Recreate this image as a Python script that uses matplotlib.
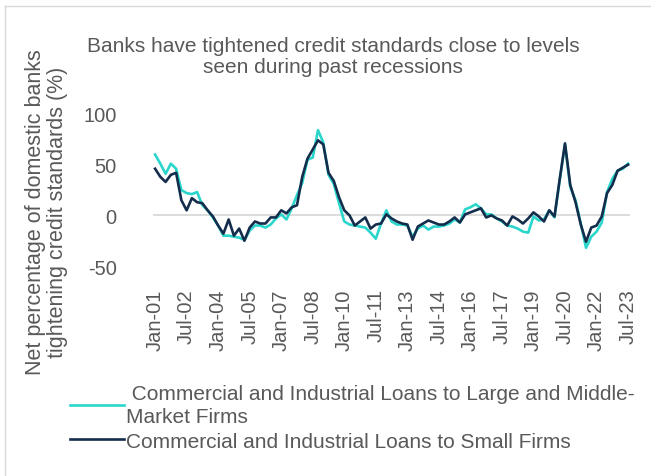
import matplotlib
matplotlib.use("Agg")
import matplotlib.pyplot as plt
from matplotlib.lines import Line2D

plt.rcParams['font.family'] = ['Liberation Sans', 'DejaVu Sans']
plt.rcParams['axes.unicode_minus'] = False

# quarterly survey, Jan-01 .. Jul-23
years = list(range(2001, 2024))
months = ['Jan', 'Apr', 'Jul', 'Oct']
quarters = [f"{m}-{str(y)[2:]}" for y in years for m in months][:91]

large_mid = [60, 51, 41, 51, 46, 25, 22, 21, 23, 10,
             5, -2, -10, -20, -20, -21, -22, -24, -15, -10,
             -10, -12, -9, -3, 1, -4, 7, 20, 32, 55,
             57, 84, 72, 40, 31, 12, -6, -9, -10, -11,
             -12, -17, -23, -8, 5, -6, -9, -9, -10, -21,
             -13, -10, -14, -11, -11, -10, -8, -4, -7, 6,
             8, 11, 7, 1, 1, -3, -6, -10, -11, -13,
             -16, -17, -1, -5, -4, 5, -2, 35, 70, 28,
             15, -8, -32, -21, -16, -7, 23, 36, 44, 46,
             51]

small = [46, 38, 33, 40, 42, 15, 5, 17, 13, 12,
         5, -1, -10, -18, -4, -20, -13, -25, -12, -6,
         -8, -8, -2, -2, 5, 2, 8, 10, 38, 56,
         65, 74, 70, 42, 34, 18, 5, 0, -10, -6,
         -2, -13, -9, -8, 1, -3, -6, -8, -9, -24,
         -11, -8, -5, -7, -9, -9, -6, -2, -7, 1,
         3, 5, 7, -2, 0, -3, -5, -10, -1, -4,
         -8, -3, 3, -1, -6, 5, -1, 36, 71, 30,
         13, -9, -26, -12, -10, -1, 22, 30, 44, 47,
         50]

label_large = " Commercial and Industrial Loans to Large and Middle-\nMarket Firms"
label_small = "Commercial and Industrial Loans to Small Firms"

grey = '#595959'
cyan = '#2AD6CC'
navy = '#142D4C'

fig = plt.figure(figsize=(6.51, 4.77), dpi=100)
ax = fig.add_axes([0.235, 0.440, 0.733, 0.319])

x = list(range(len(quarters)))
ax.plot(x, large_mid, color=cyan, linewidth=1.9, label=label_large)
ax.plot(x, small, color=navy, linewidth=1.9, label=label_small)
ax.axhline(0, color='#D9D9D9', linewidth=1.3, zorder=0)

ax.set_xlim(-0.4, len(quarters) - 0.6)
ax.set_ylim(-50, 100)
ax.set_yticks([-50, 0, 50, 100])
ax.set_xticks(x[::6])
ax.set_xticklabels(quarters[::6], rotation=90)
ax.tick_params(axis='x', length=0, pad=16, labelsize=14.5, labelcolor=grey)
ax.tick_params(axis='y', length=0, pad=26, labelsize=14.5, labelcolor=grey)
for s in ax.spines.values():
    s.set_visible(False)

fig.text(0.512, 0.880, "Banks have tightened credit standards close to levels\nseen during past recessions",
         ha='center', va='center', fontsize=15, color=grey, linespacing=1.1)
fig.text(0.0715, 0.555, "Net percentage of domestic banks\ntightening credit standards (%)",
         rotation=90, ha='center', va='center', fontsize=15.5, color=grey,
         linespacing=1.05)

leg = fig.legend(loc='upper left', bbox_to_anchor=(0.107, 0.193), frameon=False,
                 fontsize=15, handlelength=2.6, handletextpad=0.1,
                 labelspacing=0.25, borderpad=0, borderaxespad=0)
for t in leg.get_texts():
    t.set_color(grey)
    t.set_linespacing(1.3)

# chart frame edges (top and left)
fig.add_artist(Line2D([0.008, 0.008], [0, 0.985], transform=fig.transFigure,
                      color='#D9D9D9', linewidth=1))
fig.add_artist(Line2D([0.008, 1], [0.985, 0.985], transform=fig.transFigure,
                      color='#D9D9D9', linewidth=1))

fig.savefig('out.png', dpi=100)
